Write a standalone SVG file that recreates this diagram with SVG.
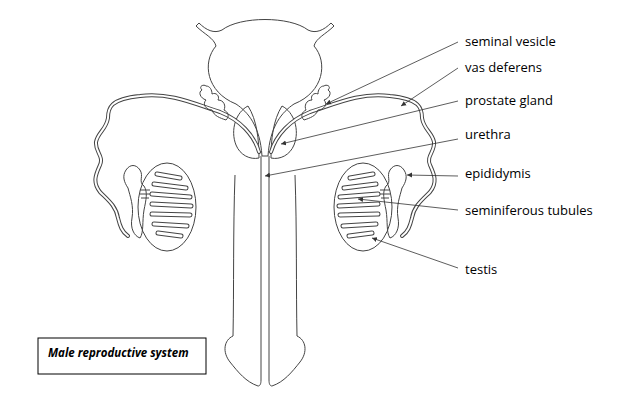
<svg xmlns="http://www.w3.org/2000/svg" width="636" height="402" viewBox="0 0 636 402">
<style>
.o{fill:none;stroke:#444;stroke-width:1}
.d{fill:none;stroke:#444;stroke-width:4;stroke-linecap:round;stroke-linejoin:round}
.di{fill:none;stroke:#fff;stroke-width:2;stroke-linecap:round;stroke-linejoin:round}
.lbl{font-family:"Open Sans","Liberation Sans",sans-serif;font-size:13px;fill:#000}
.ld{stroke:#333;stroke-width:0.8;fill:none;marker-end:url(#ah)}
</style>
<defs>
<marker id="ah" markerWidth="6" markerHeight="6" refX="5" refY="3" orient="auto" markerUnits="userSpaceOnUse"><path d="M0,0.5 L5,3 L0,5.5z" fill="#333"/></marker>
<pattern id="dots" width="4" height="4" patternUnits="userSpaceOnUse"><rect width="4" height="4" fill="#f4f4f4"/><circle cx="1" cy="1" r="0.5" fill="#999"/><circle cx="3" cy="3" r="0.4" fill="#bbb"/></pattern>
<g id="half">
<path d="M248,106 C236,112 230,130 236,145 C240,155 250,160 259,158 C259,140 257,120 248,106Z" fill="url(#dots)" class="o"/>
<path class="d" d="M259,152 C254,135 240,120 220,112 C195,104 170,92 140,96 C110,99 108,108 108,118 C106,130 98,132 96,142 C95,152 104,156 100,165 C96,174 92,182 100,192 C108,200 116,206 118,218 C120,226 122,232 128,236"/>
<path class="di" d="M259,152 C254,135 240,120 220,112 C195,104 170,92 140,96 C110,99 108,108 108,118 C106,130 98,132 96,142 C95,152 104,156 100,165 C96,174 92,182 100,192 C108,200 116,206 118,218 C120,226 122,232 128,236"/>
<path class="o" fill="#fff" d="M226,120 C220,118 214,116 212,110 C206,110 202,104 206,100 C200,98 198,92 202,90 C198,86 204,84 206,86 C210,86 212,90 212,94 C216,92 220,96 218,100 C224,100 226,106 224,110 C228,112 230,116 226,120Z"/>
<ellipse class="o" cx="167" cy="207" rx="29" ry="44" fill="#fff"/>
<path class="o" fill="#fff" d="M140,238 C134,236 130,228 132,218 C134,206 130,196 128,188 C124,182 122,176 126,170 C130,164 136,164 140,170 C144,176 138,182 144,186 C148,192 146,200 144,210 C142,222 144,232 140,238Z"/>
<g class="d" style="stroke-width:5">
<path d="M157,174 L180,178"/><path d="M154,184 L186,188"/><path d="M152,194 L190,197"/><path d="M152,204 L191,206"/><path d="M152,214 L190,215"/><path d="M154,224 L187,226"/><path d="M158,233 L181,236"/>
</g>
<g class="di" style="stroke-width:3">
<path d="M157,174 L180,178"/><path d="M154,184 L186,188"/><path d="M152,194 L190,197"/><path d="M152,204 L191,206"/><path d="M152,214 L190,215"/><path d="M154,224 L187,226"/><path d="M158,233 L181,236"/>
</g>
<path class="o" d="M140,190 L150,190 M140,194 L150,194 M141,198 L149,198"/>
<path class="o" d="M235,175 C233,230 234,290 233,336 C224,340 222,352 230,362 C238,372 246,382 258,386 C260,386 261,384 261,380 L261,156"/>
</g>
</defs>
<rect width="636" height="402" fill="#fff"/>
<g id="bladder">
<path class="o" fill="#fff" d="M196,26 L199,23 C206,30 214,34 222,30 C240,16 290,16 308,30 C316,34 324,30 331,23 L334,26 C326,34 316,38 314,46 C328,62 324,92 294,104 C282,112 270,126 268,156 L262,156 C260,126 248,112 236,104 C206,92 202,62 216,46 C214,38 204,34 196,26Z"/>
</g>
<g id="left"><use href="#half"/></g>
<g id="right"><use href="#half" transform="translate(530,0) scale(-1,1)"/></g>
<g id="connectors">
<line class="ld" x1="458" y1="42" x2="326" y2="104"/>
<line class="ld" x1="458" y1="68" x2="401" y2="106"/>
<line class="ld" x1="458" y1="101" x2="281" y2="144"/>
<line class="ld" x1="458" y1="139" x2="265" y2="176"/>
<line class="ld" x1="458" y1="176" x2="407" y2="175"/>
<line class="ld" x1="458" y1="210" x2="358" y2="199"/>
<line class="ld" x1="458" y1="268" x2="372" y2="238"/>
</g>
<g id="labels">
<text class="lbl" x="465" y="46">seminal vesicle</text>
<text class="lbl" x="465" y="72">vas deferens</text>
<text class="lbl" x="465" y="105">prostate gland</text>
<text class="lbl" x="465" y="139">urethra</text>
<text class="lbl" x="465" y="178">epididymis</text>
<text class="lbl" x="465" y="215">seminiferous tubules</text>
<text class="lbl" x="465" y="274">testis</text>
</g>
<g id="caption">
<rect x="38" y="338" width="168" height="36" fill="#fff" stroke="#000" stroke-width="1"/>
<text x="48" y="357" font-family="'Open Sans','Liberation Sans',sans-serif" font-size="11.5" font-weight="bold" font-style="italic">Male reproductive system</text>
</g>
</svg>
